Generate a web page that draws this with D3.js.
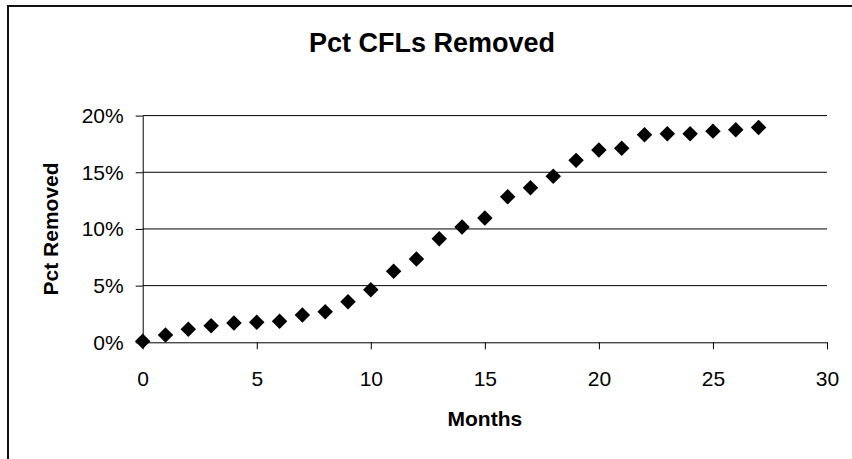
<!DOCTYPE html>
<html>
<head>
<meta charset="utf-8">
<script src="https://cdn.jsdelivr.net/npm/d3@7"></script>
<style>
  body { margin: 0; background: #fff; }
  svg { display: block; font-family: "Liberation Sans", Arial, sans-serif; }
</style>
</head>
<body>
<div id="chart"></div>
<script>
// months since start
const months = [0, 1, 2, 3, 4, 5, 6, 7, 8, 9, 10, 11, 12, 13, 14, 15, 16, 17, 18, 19, 20, 21, 22, 23, 24, 25, 26, 27]
// percent of CFLs removed
const pctRemoved = [0.1, 0.64, 1.15, 1.46, 1.70, 1.76, 1.85, 2.41, 2.70, 3.58, 4.64, 6.26, 7.35, 9.14, 10.17, 10.96,
  12.84, 13.63, 14.64, 16.05, 16.96, 17.11, 18.31, 18.40, 18.40, 18.63, 18.75, 18.96]
const xTicks = [0, 5, 10, 15, 20, 25, 30]
const yTicks = [0, 5, 10, 15, 20]

const width = 852
const height = 459
const margin = { top: 115.6, right: 25, bottom: 116.7, left: 142.7 }

const data = months.map((m, i) => ({ month: m, pct: pctRemoved[i] }))

const svg = d3.select("#chart")
  .append("svg")
  .attr("width", width)
  .attr("height", height)

// outer chart frame (cropped at right and bottom)
svg.append("path")
  .attr("d", `M8,${height + 5} L8,6 L${width + 5},6`)
  .attr("fill", "none")
  .attr("stroke", "#111")
  .attr("stroke-width", 2)

const x = d3.scaleLinear()
  .domain([0, 30])
  .range([margin.left, width - margin.right])

const y = d3.scaleLinear()
  .domain([0, 20])
  .range([height - margin.bottom, margin.top])

// gridlines
svg.append("g")
  .selectAll("line")
  .data(yTicks.filter(d => d > 0))
  .enter()
  .append("line")
  .attr("x1", x(0))
  .attr("x2", x(30))
  .attr("y1", d => y(d))
  .attr("y2", d => y(d))
  .attr("stroke", "#000")
  .attr("stroke-width", 1)

// x axis
const xAxis = svg.append("g")
  .attr("transform", `translate(0,${y(0)})`)
  .call(d3.axisBottom(x).tickValues(xTicks).tickSize(7).tickPadding(22).tickSizeOuter(0))
xAxis.select(".domain").attr("stroke", "#000")
xAxis.selectAll("text").attr("font-size", 21).attr("fill", "#000")
  .attr("font-family", "Liberation Sans, Arial, sans-serif")

// y axis
const yAxis = svg.append("g")
  .attr("transform", `translate(${x(0)},0)`)
  .call(d3.axisLeft(y).tickValues(yTicks).tickFormat(d => d + "%").tickSize(7).tickPadding(12).tickSizeOuter(0))
yAxis.select(".domain").attr("stroke", "#000")
yAxis.selectAll("text").attr("font-size", 21).attr("fill", "#000")
  .attr("font-family", "Liberation Sans, Arial, sans-serif")

// diamond markers
const diamond = d3.symbol().type(d3.symbolSquare).size(120)
svg.append("g")
  .selectAll("path")
  .data(data)
  .enter()
  .append("path")
  .attr("d", diamond)
  .attr("transform", d => `translate(${x(d.month)},${y(d.pct)}) rotate(45)`)
  .attr("fill", "#000")

// titles
svg.append("text")
  .attr("x", 432)
  .attr("y", 52)
  .attr("text-anchor", "middle")
  .attr("font-size", 27)
  .attr("font-weight", "bold")
  .text("Pct CFLs Removed")

svg.append("text")
  .attr("x", x(15))
  .attr("y", 426)
  .attr("text-anchor", "middle")
  .attr("font-size", 21)
  .attr("font-weight", "bold")
  .text("Months")

svg.append("text")
  .attr("transform", `translate(58,${y(10)}) rotate(-90)`)
  .attr("text-anchor", "middle")
  .attr("font-size", 21)
  .attr("font-weight", "bold")
  .text("Pct Removed")
</script>
</body>
</html>
